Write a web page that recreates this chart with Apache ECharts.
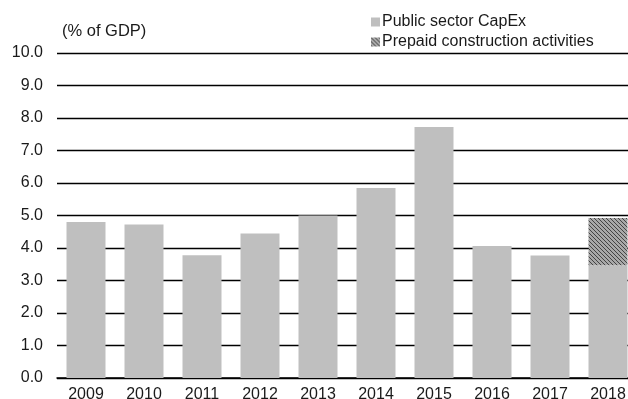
<!DOCTYPE html>
<html>
<head>
<meta charset="utf-8">
<script src="https://cdn.jsdelivr.net/npm/echarts@6/dist/echarts.min.js"></script>
<style>
  html, body { margin: 0; padding: 0; background: #fff; overflow: hidden; }
  /* the plot runs slightly past the right edge of the page */
  #chart { width: 637px; height: 399px; }
</style>
</head>
<body>
<div id="chart"></div>
<script>
// Public sector capital expenditure, % of GDP
const years = ['2009', '2010', '2011', '2012', '2013', '2014', '2015', '2016', '2017', '2018'];
const capex = [4.8, 4.72, 3.78, 4.45, 5.0, 5.85, 7.72, 4.06, 3.77, 3.47];
const prepaid = [null, null, null, null, null, null, null, null, null, 1.45];
const yTicks = [0, 1, 2, 3, 4, 5, 6, 7, 8, 9, 10];

// Diagonal hatch fill for prepaid construction
function hatch() {
  const c = document.createElement('canvas');
  c.width = 4; c.height = 4;
  const g = c.getContext('2d');
  g.fillStyle = '#a8a8a8';
  g.fillRect(0, 0, 4, 4);
  g.strokeStyle = '#444';
  g.lineWidth = 1;
  g.beginPath();
  g.moveTo(-1, -1); g.lineTo(5, 5);
  g.moveTo(-1, 3); g.lineTo(1, 5);
  g.moveTo(3, -1); g.lineTo(5, 1);
  g.stroke();
  return c;
}
const hatchFill = { image: hatch(), repeat: 'repeat' };

const chart = echarts.init(document.getElementById('chart'), null, { renderer: 'canvas' });
const font = 'Liberation Sans, Arial, sans-serif';
const ink = '#1a1a1a';

chart.setOption({
  animation: false,
  textStyle: { fontFamily: font },
  grid: { left: 57, top: 53, right: 0, bottom: 21, containLabel: false, outerBoundsMode: 'none' },
  legend: {
    orient: 'vertical',
    left: 366,
    top: 9,
    itemWidth: 9,
    itemHeight: 9,
    itemGap: 4,
    icon: 'rect',
    textStyle: { fontSize: 16, color: ink, fontFamily: font, padding: [0, 0, 0, -3] },
    data: [
      { name: 'Public sector CapEx', itemStyle: { color: '#bfbfbf' } },
      { name: 'Prepaid construction activities', itemStyle: { color: hatchFill } }
    ]
  },
  graphic: [{
    type: 'text',
    left: 62,
    top: 23,
    style: { text: '(% of GDP)', fontSize: 16.5, fill: ink, fontFamily: font }
  }],
  xAxis: {
    type: 'category',
    data: years,
    axisLine: { show: true, lineStyle: { color: '#000', width: 1.5 } },
    axisTick: { show: false },
    axisLabel: { fontSize: 16, color: ink, margin: 9, fontFamily: font }
  },
  yAxis: {
    type: 'value',
    min: yTicks[0],
    max: yTicks[yTicks.length - 1],
    interval: 1,
    axisLine: { show: false },
    axisTick: { show: false },
    axisLabel: {
      fontSize: 16, color: ink, margin: 14, fontFamily: font,
      padding: [3, 0, 0, 0],
      formatter: v => v.toFixed(1)
    },
    splitLine: { lineStyle: { color: '#000', width: 1.4 } }
  },
  series: [
    {
      name: 'Public sector CapEx',
      type: 'bar',
      stack: 'total',
      data: capex,
      barWidth: 39,
      itemStyle: { color: '#bfbfbf' }
    },
    {
      name: 'Prepaid construction activities',
      type: 'bar',
      stack: 'total',
      data: prepaid,
      barWidth: 39,
      itemStyle: { color: hatchFill }
    }
  ]
});
</script>
</body>
</html>
